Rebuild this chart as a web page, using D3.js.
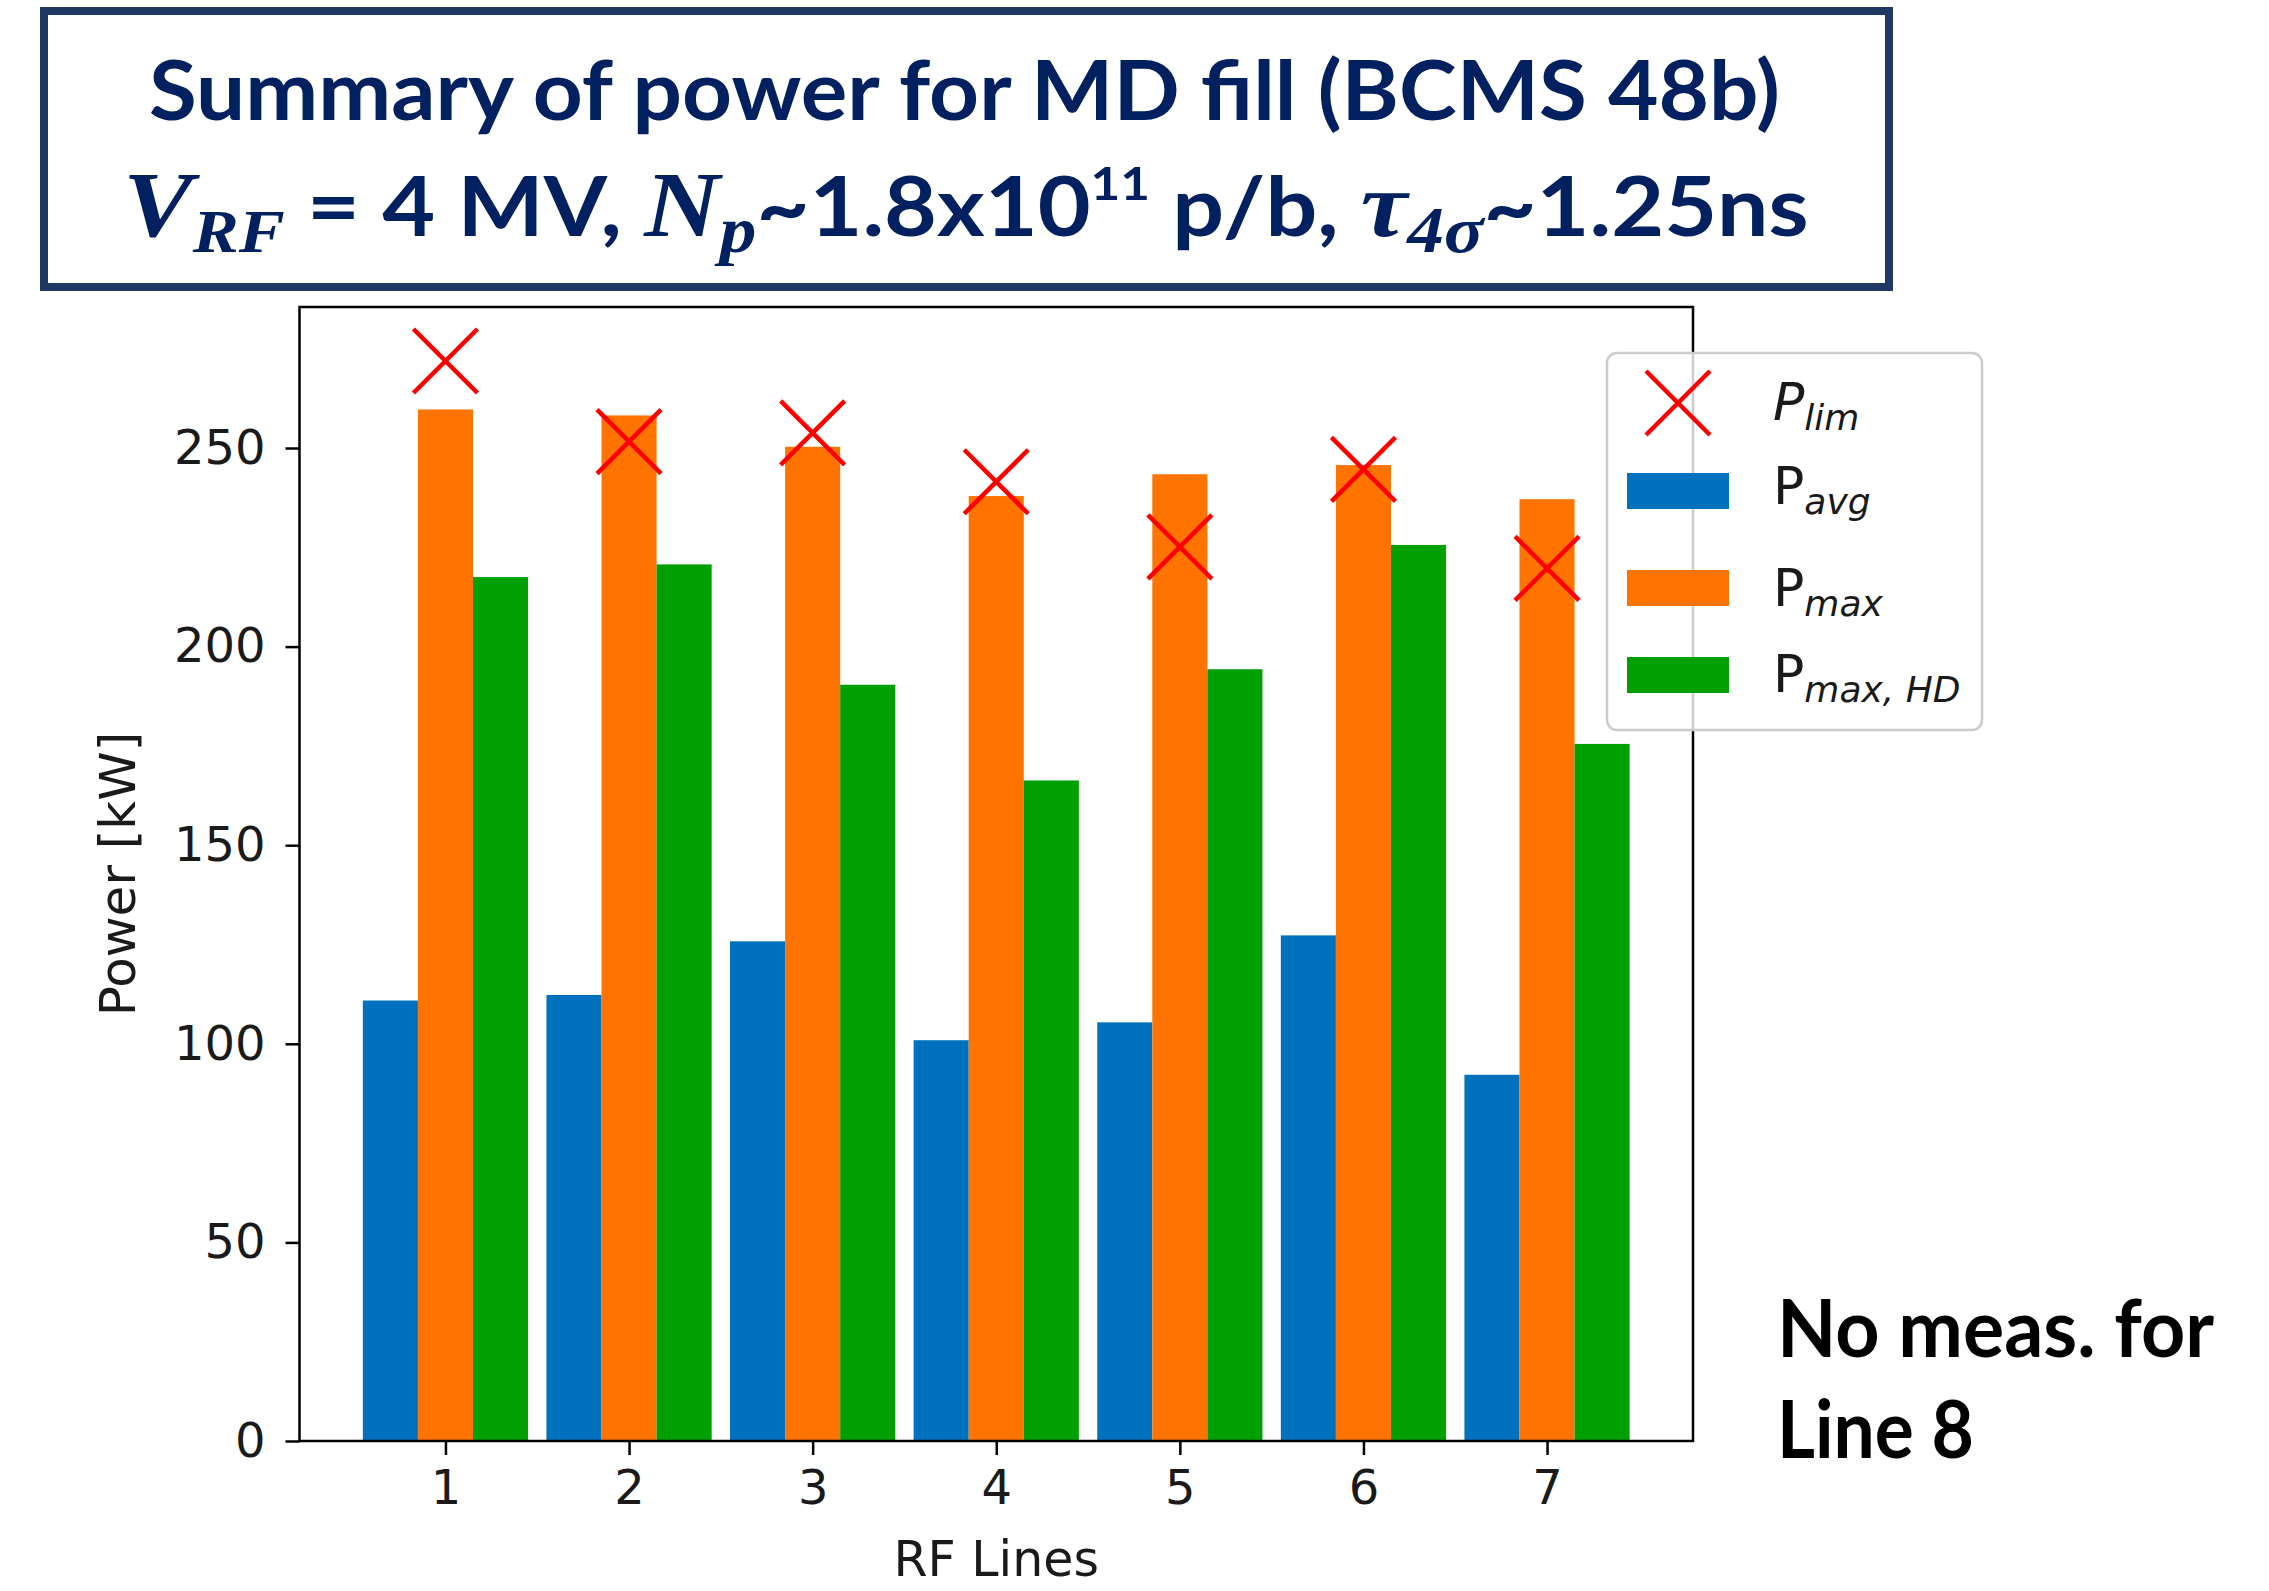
<!DOCTYPE html>
<html>
<head>
<meta charset="utf-8">
<script src="https://cdn.jsdelivr.net/npm/d3@7"></script>
<style>
  html, body { margin: 0; padding: 0; background: #fff; }
  svg { display: block; }
</style>
</head>
<body>
<svg id="chart" width="2269" height="1591"></svg>
<script>
// RF lines and measured powers [kW]
const rfLines = [1, 2, 3, 4, 5, 6, 7];
const pAvg    = [110.9, 112.3, 125.8, 100.9, 105.4, 127.3, 92.2];
const pMax    = [259.7, 258.2, 250.3, 237.9, 243.4, 245.7, 237.1];
const pMaxHD  = [217.5, 220.7, 190.4, 166.3, 194.3, 225.6, 175.5];
const pLim    = [271.9, 251.6, 253.8, 241.5, 225.1, 244.6, 219.7];
const yTickValues = [0, 50, 100, 150, 200, 250];
const xTickLabels = ["1", "2", "3", "4", "5", "6", "7"];

const svg = d3.select("#chart");
const navy = "#002060";
const sansBold = "Lato, 'Open Sans', sans-serif";
const mathSerif = "'Liberation Serif', 'DejaVu Serif', serif";
const plotFont = "'DejaVu Sans', sans-serif";

// ---------- Title box ----------
const titleG = svg.append("g");
titleG.append("rect")
  .attr("x", 44).attr("y", 11).attr("width", 1845).attr("height", 276)
  .attr("fill", "#fff").attr("stroke", "#1f3864").attr("stroke-width", 8);

titleG.append("text")
  .attr("x", 149).attr("y", 120)
  .attr("font-family", sansBold).attr("font-weight", 700)
  .attr("font-size", 82).attr("fill", navy)
  .attr("textLength", 1631).attr("lengthAdjust", "spacingAndGlyphs")
  .text("Summary of power for MD fill (BCMS 48b)");

const t2parts = [
  { t: "V",       f: mathSerif, s: 94, it: true,  dy: 0 },
  { t: "RF",      f: mathSerif, s: 62, it: true,  dy: 16 },
  { t: " = ",     f: sansBold,  s: 82, it: false, dy: -16 },
  { t: "4 MV, ",  f: sansBold,  s: 82, it: false, dy: 0 },
  { t: "N",       f: mathSerif, s: 94, it: true,  dy: 0 },
  { t: "p",       f: mathSerif, s: 66, it: true,  dy: 16 },
  { t: "~1.8x10", f: sansBold,  s: 82, it: false, dy: -16 },
  { t: "11",      f: sansBold,  s: 46, it: false, dy: -36 },
  { t: " p/b, ",  f: sansBold,  s: 82, it: false, dy: 36 },
  { t: "τ",       f: mathSerif, s: 94, it: true,  dy: 0 },
  { t: "4σ",      f: mathSerif, s: 66, it: true,  dy: 16 },
  { t: "~1.25ns", f: sansBold,  s: 82, it: false, dy: -16 }
];
const t2 = titleG.append("text")
  .attr("x", 0).attr("y", 236)
  .attr("fill", navy).attr("font-weight", 700)
  .attr("xml:space", "preserve");
t2.selectAll("tspan").data(t2parts).join("tspan")
  .attr("font-family", d => d.f)
  .attr("font-size", d => d.s)
  .attr("font-style", d => d.it ? "italic" : "normal")
  .attr("dy", d => d.dy)
  .style("white-space", "pre")
  .text(d => d.t);
{
  // fit the formula line to the width of the title box text block
  const bb = t2.node().getBBox();
  const target = 1686, left = 123;
  const sx = target / bb.width;
  t2.attr("transform", `translate(${left},0) scale(${sx},1) translate(${-bb.x},0)`);
}

// ---------- Plot area ----------
const plot = { left: 299.5, right: 1693, top: 307, bottom: 1441 };
const x = d3.scaleLinear().domain([0.205, 7.795]).range([plot.left, plot.right]);
const y = d3.scaleLinear().domain([0, 285.5]).range([plot.bottom, plot.top]);
const barW = 0.3;

const series = [
  { key: "avg",   values: pAvg,   offset: -barW, color: "#0072bd" },
  { key: "max",   values: pMax,   offset: 0,     color: "#ff7300" },
  { key: "maxHD", values: pMaxHD, offset: barW,  color: "#00a000" }
];

const barsG = svg.append("g");
series.forEach(s => {
  barsG.append("g").selectAll("rect")
    .data(s.values.map((v, i) => ({ line: rfLines[i], v })))
    .join("rect")
    .attr("x", d => x(d.line + s.offset - barW / 2))
    .attr("width", d => x(d.line + s.offset + barW / 2) - x(d.line + s.offset - barW / 2))
    .attr("y", d => y(d.v))
    .attr("height", d => y(0) - y(d.v))
    .attr("fill", s.color);
});

// Power limit markers
const xMark = "M-32,-32L32,32M-32,32L32,-32";
svg.append("g").selectAll("path")
  .data(pLim.map((v, i) => ({ line: rfLines[i], v })))
  .join("path")
  .attr("d", xMark)
  .attr("transform", d => `translate(${x(d.line)},${y(d.v)})`)
  .attr("fill", "none").attr("stroke", "#ff0000").attr("stroke-width", 4.5);

// Axes
const styleAxis = g => {
  g.select(".domain").remove();
  g.selectAll(".tick line").attr("stroke", "#000").attr("stroke-width", 2.5);
  g.selectAll(".tick text")
    .attr("font-family", plotFont).attr("font-size", 48).attr("fill", "#1a1a1a");
};
svg.append("g")
  .attr("transform", `translate(${plot.left},0)`)
  .call(d3.axisLeft(y).tickValues(yTickValues).tickSize(14).tickPadding(20))
  .call(styleAxis);
svg.append("g")
  .attr("transform", `translate(0,${plot.bottom})`)
  .call(d3.axisBottom(x).tickValues(rfLines).tickFormat((d, i) => xTickLabels[i])
        .tickSize(14).tickPadding(15))
  .call(styleAxis);

// Frame
svg.append("rect")
  .attr("x", plot.left).attr("y", plot.top)
  .attr("width", plot.right - plot.left).attr("height", plot.bottom - plot.top)
  .attr("fill", "none").attr("stroke", "#000").attr("stroke-width", 2.5);

// Axis labels
svg.append("text")
  .attr("transform", `translate(117,${(plot.top + plot.bottom) / 2}) rotate(-90)`)
  .attr("text-anchor", "middle").attr("dy", "0.35em")
  .attr("font-family", plotFont).attr("font-size", 50).attr("fill", "#1a1a1a")
  .text("Power [kW]");
svg.append("text")
  .attr("x", (plot.left + plot.right) / 2).attr("y", 1576)
  .attr("text-anchor", "middle")
  .attr("font-family", plotFont).attr("font-size", 49).attr("fill", "#1a1a1a")
  .text("RF Lines");

// ---------- Legend ----------
const legend = svg.append("g");
legend.append("rect")
  .attr("x", 1607).attr("y", 353).attr("width", 375).attr("height", 377)
  .attr("rx", 10).attr("ry", 10)
  .attr("fill", "#fff").attr("fill-opacity", 0.8)
  .attr("stroke", "#cccccc").attr("stroke-width", 2.5);

legend.append("path")
  .attr("d", xMark)
  .attr("transform", "translate(1678,403)")
  .attr("fill", "none").attr("stroke", "#ff0000").attr("stroke-width", 4.5);

const legendPatches = [
  { color: series[0].color, y0: 473 },
  { color: series[1].color, y0: 570 },
  { color: series[2].color, y0: 657 }
];
legend.selectAll("rect.patch").data(legendPatches).join("rect")
  .attr("class", "patch")
  .attr("x", 1627).attr("y", d => d.y0).attr("width", 102).attr("height", 36)
  .attr("fill", d => d.color);

const legendLabels = [
  { main: "P", sub: "lim",     italicMain: true,  base: 420 },
  { main: "P", sub: "avg",     italicMain: false, base: 504 },
  { main: "P", sub: "max",     italicMain: false, base: 606 },
  { main: "P", sub: "max, HD", italicMain: false, base: 692 }
];
legendLabels.forEach(l => {
  const t = legend.append("text")
    .attr("x", 1773).attr("y", l.base)
    .attr("font-family", plotFont).attr("fill", "#1a1a1a");
  t.append("tspan").attr("font-size", 52)
    .attr("font-style", l.italicMain ? "italic" : "normal").text(l.main);
  t.append("tspan").attr("font-size", 36).attr("font-style", "italic")
    .attr("dy", 10).text(l.sub);
});

// ---------- Side note ----------
svg.append("text")
  .attr("x", 1777).attr("y", 1357)
  .attr("font-family", sansBold).attr("font-weight", 700)
  .attr("font-size", 80).attr("fill", "#000")
  .attr("textLength", 437).attr("lengthAdjust", "spacingAndGlyphs")
  .text("No meas. for");
svg.append("text")
  .attr("x", 1777).attr("y", 1458)
  .attr("font-family", sansBold).attr("font-weight", 700)
  .attr("font-size", 80).attr("fill", "#000")
  .attr("textLength", 197).attr("lengthAdjust", "spacingAndGlyphs")
  .text("Line 8");
</script>
</body>
</html>
